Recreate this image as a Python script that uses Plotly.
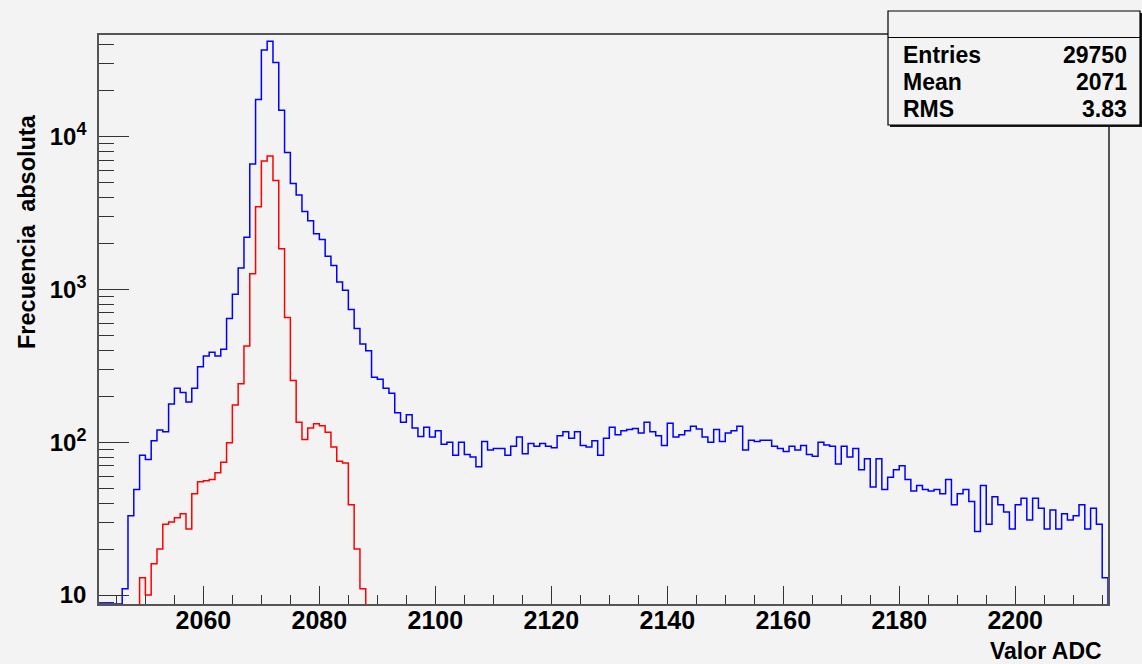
import numpy as np
import plotly.graph_objects as go

# ---------------------------------------------------------------------------
# Histogram data: one bin per ADC count, bins [edge, edge+1)
# ---------------------------------------------------------------------------
adc_low = 2042
adc_high = 2216
blue_first_bin = 2042
blue_counts = [
    2, 4, 3, 6, 11, 33, 49, 82, 77, 102,                        # 2042-2051
    120, 117, 178, 225, 211, 183, 225, 312, 366, 387,           # 2052-2061
    366, 405, 645, 927, 1377, 2190, 6590, 17470, 36800, 41900,  # 2062-2071
    30400, 14820, 7850, 4930, 4140, 3230, 2813, 2307, 2117, 1645,  # 2072-2081
    1432, 1116, 985, 738, 555, 438, 396, 266, 258, 225,         # 2082-2091
    209, 156, 135, 151, 124, 109, 125, 108, 119, 97,            # 2092-2101
    100, 82, 100, 83, 80, 69, 101, 89, 91, 91,                  # 2102-2111
    82, 94, 108, 84, 98, 94, 98, 94, 92, 110,                   # 2112-2121
    117, 106, 117, 95, 93, 102, 82, 106, 125, 112,              # 2122-2131
    119, 121, 123, 115, 135, 117, 110, 95, 133, 108,            # 2132-2141
    112, 119, 127, 122, 108, 100, 121, 101, 115, 119,           # 2142-2151
    127, 89, 103, 101, 103, 103, 94, 91, 87, 94,                # 2152-2161
    89, 95, 83, 81, 100, 96, 94, 72, 94, 80,                    # 2162-2171
    91, 66, 78, 51, 78, 49, 59, 66, 70, 57,                     # 2172-2181
    48, 52, 49, 48, 49, 46, 57, 39, 46, 49,                     # 2182-2191
    41, 26, 52, 29, 44, 39, 35, 27, 39, 43,                     # 2192-2201
    31, 43, 37, 27, 36, 27, 34, 31, 33, 39,                     # 2202-2211
    27, 37, 29, 13,                                             # 2212-2215
]

red_first_bin = 2049
red_counts = [
    13, 10, 16, 20, 29, 30, 32, 34, 27, 46,                     # 2049-2058
    55, 56, 57, 63, 74, 99, 175, 241, 425, 1265,                # 2059-2068
    3470, 6900, 7450, 5150, 1842, 654, 253, 135, 104, 124,      # 2069-2078
    132, 128, 116, 93, 75, 73, 39, 20, 11,                      # 2079-2087
]

stats_labels = ["Entries", "Mean", "RMS"]
stats_values = ["29750", "2071", "3.83"]

x_major_ticks = [2060, 2080, 2100, 2120, 2140, 2160, 2180, 2200]
y_major_ticks = [10, 100, 1000, 10000]
SUP = "<sup><span style='font-size:18px'>{}</span></sup>"
y_major_text = [
    "10",
    "10" + SUP.format(2),
    "10" + SUP.format(3),
    "10" + SUP.format(4),
]

x_title = "Valor ADC"
y_title = "Frecuencia\u00a0 absoluta"

# ---------------------------------------------------------------------------
# Styling / geometry
# ---------------------------------------------------------------------------
W, H = 1142, 664
M_L, M_R, M_T, M_B = 99, 34, 35, 60
y_log_range = [0.9415, 4.6635]
y_floor = 10 ** y_log_range[0]

FONT = "Liberation Sans, Arial, Helvetica, sans-serif"
BG = "#f3f3f3"
FRAME = "#555555"


def px_to_paper_x(px):
    return (px - M_L) / (W - M_L - M_R)


def px_to_paper_y(py):
    return (H - M_B - py) / (H - M_T - M_B)


def hist_outline(first_edge, counts, floor):
    """Step outline of a histogram, closed down to the axis floor at both ends."""
    xs, ys = [first_edge], [floor]
    for i, c in enumerate(counts):
        v = max(c, floor)
        xs += [first_edge + i, first_edge + i + 1]
        ys += [v, v]
    xs.append(first_edge + len(counts))
    ys.append(floor)
    return xs, ys


bx, by = hist_outline(blue_first_bin, blue_counts, y_floor)
rx, ry = hist_outline(red_first_bin, red_counts, y_floor)

fig = go.Figure()
fig.add_trace(go.Scatter(x=bx, y=by, mode="lines",
                         line=dict(color="#0000ff", width=1.5),
                         hoverinfo="skip", showlegend=False))
fig.add_trace(go.Scatter(x=rx, y=ry, mode="lines",
                         line=dict(color="#ff0000", width=1.5),
                         hoverinfo="skip", showlegend=False))

# minor ticks on the log axis: 2..9 x 10^k
y_minor_ticks = [k * 10 ** d for d in range(0, 5) for k in range(2, 10)
                 if y_log_range[0] < np.log10(k * 10 ** d) < y_log_range[1]]

fig.update_xaxes(
    range=[adc_low, adc_high],
    showgrid=False, zeroline=False,
    showline=True, linecolor=FRAME, linewidth=1.5, mirror=True,
    ticks="inside", ticklen=18, tickwidth=1.2, tickcolor="#333333",
    tickmode="array", tickvals=x_major_ticks,
    ticktext=[str(v) for v in x_major_ticks],
    tickfont=dict(family=FONT, size=25, color="#000000", weight="bold"),
    ticklabelstandoff=-7,
    minor=dict(ticks="inside", ticklen=9, tickwidth=1.2, tickcolor="#333333",
               tick0=2040, dtick=5, showgrid=False),
)
fig.update_yaxes(
    type="log", range=y_log_range,
    showgrid=False, zeroline=False,
    showline=True, linecolor=FRAME, linewidth=1.5, mirror=True,
    ticks="inside", ticklen=30, tickwidth=1.2, tickcolor="#333333",
    tickmode="array", tickvals=y_major_ticks, ticktext=y_major_text,
    tickfont=dict(family=FONT, size=24, color="#000000", weight="bold"),
    ticklabelstandoff=6,
    minor=dict(ticks="inside", ticklen=15, tickwidth=1.2, tickcolor="#333333",
               tickmode="array", tickvals=y_minor_ticks, showgrid=False),
)

# statistics box (with drop shadow), drawn over the top-right corner
box_l, box_r, box_t, box_b, box_div = 888, 1140, 11, 125, 37.5
shapes = [
    dict(type="rect", xref="paper", yref="paper",
         x0=px_to_paper_x(box_l + 2), x1=px_to_paper_x(box_r + 2),
         y0=px_to_paper_y(box_b + 2), y1=px_to_paper_y(box_t + 2),
         fillcolor="#1a1a1a", line=dict(width=0), layer="above"),
    dict(type="rect", xref="paper", yref="paper",
         x0=px_to_paper_x(box_l), x1=px_to_paper_x(box_r),
         y0=px_to_paper_y(box_b), y1=px_to_paper_y(box_t),
         fillcolor=BG, line=dict(color="#000000", width=1.2), layer="above"),
    dict(type="line", xref="paper", yref="paper",
         x0=px_to_paper_x(box_l), x1=px_to_paper_x(box_r),
         y0=px_to_paper_y(box_div), y1=px_to_paper_y(box_div),
         line=dict(color="#000000", width=1.2), layer="above"),
]

stat_font = dict(family=FONT, size=23, color="#000000", weight="bold")
row_y = [54.5, 81.5, 108.5]
annotations = []
for lab, val, ry_px in zip(stats_labels, stats_values, row_y):
    annotations.append(dict(text=lab, xref="paper", yref="paper",
                            x=px_to_paper_x(901), y=px_to_paper_y(ry_px),
                            xanchor="left", yanchor="middle",
                            showarrow=False, font=stat_font))
    annotations.append(dict(text=val, xref="paper", yref="paper",
                            x=px_to_paper_x(1129), y=px_to_paper_y(ry_px),
                            xanchor="right", yanchor="middle",
                            showarrow=False, font=stat_font))

# axis titles, aligned to the end of each axis
annotations.append(dict(text=x_title, xref="paper", yref="paper",
                        x=px_to_paper_x(1104), y=px_to_paper_y(651),
                        xanchor="right", yanchor="middle", showarrow=False,
                        font=dict(family=FONT, size=23, color="#000000",
                                  weight="bold")))
annotations.append(dict(text=y_title, xref="paper", yref="paper",
                        x=px_to_paper_x(27), y=px_to_paper_y(232),
                        xanchor="center", yanchor="middle", textangle=-90,
                        showarrow=False,
                        font=dict(family=FONT, size=23.5, color="#000000",
                                  weight="bold")))

fig.update_layout(
    width=W, height=H,
    margin=dict(l=M_L, r=M_R, t=M_T, b=M_B, pad=0),
    paper_bgcolor=BG, plot_bgcolor=BG,
    shapes=shapes, annotations=annotations,
    showlegend=False,
)

fig.write_html("out.html")
